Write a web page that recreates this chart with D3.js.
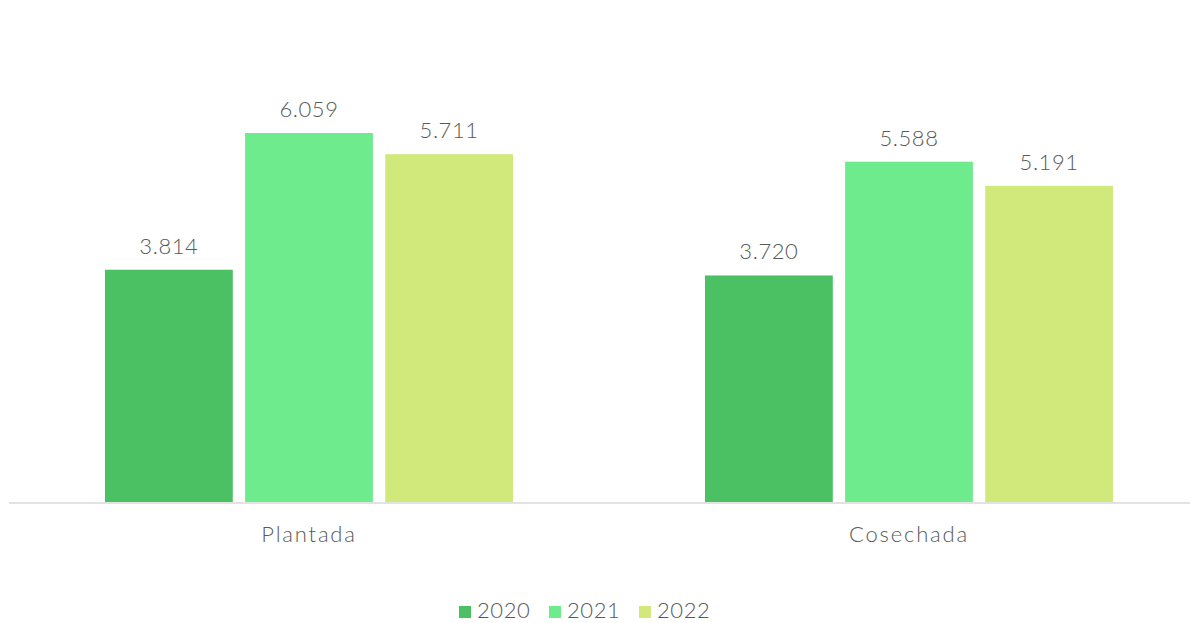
<!DOCTYPE html>
<html><head><meta charset="utf-8">
<script src="https://cdn.jsdelivr.net/npm/d3@7/dist/d3.min.js"></script>
<style>body{margin:0;background:#fff}text{font-family:"Century Gothic","Lato","Open Sans",sans-serif;fill:#595959}</style>
</head><body><svg id="c" width="1197" height="623"></svg>
<script>
const categories = ["Plantada", "Cosechada"];
const seriesNames = ["2020", "2021", "2022"];
const values2020 = [3.814, 3.720];
const values2021 = [6.059, 5.588];
const values2022 = [5.711, 5.191];
const labels2020 = ["3.814", "3.720"];
const labels2021 = ["6.059", "5.588"];
const labels2022 = ["5.711", "5.191"];
const colors = ["#4BC163", "#6EEB8D", "#D1E97B"];

const series = [values2020, values2021, values2022];
const labels = [labels2020, labels2021, labels2022];
const svg = d3.select("#c");
const baseY = 502;
const y = d3.scaleLinear().domain([0, 6.059]).range([baseY, 133]);
const x0 = d3.scaleBand().domain(categories).range([9, 1209]).paddingInner(0).paddingOuter(0);
const x1 = d3.scaleBand().domain(seriesNames).range([96, 504]).paddingInner(0.088).paddingOuter(0);

categories.forEach((cat, ci) => {
  seriesNames.forEach((s, si) => {
    const v = series[si][ci];
    const bx = x0(cat) + x1(s);
    svg.append("rect").attr("x", bx).attr("y", y(v)).attr("width", x1.bandwidth()).attr("height", baseY - y(v)).attr("fill", colors[si]);
    svg.append("text").attr("x", bx + x1.bandwidth()/2).attr("y", y(v) - 16).attr("text-anchor", "middle")
      .attr("font-size", 22).attr("font-weight", 350).attr("letter-spacing", 0.6).text(labels[si][ci]);
  });
  svg.append("text").attr("x", x0(cat) + x0.bandwidth()/2).attr("y", 542).attr("text-anchor", "middle")
    .attr("font-size", 22).attr("font-weight", 350).attr("letter-spacing", 1.8).text(cat);
});
svg.append("line").attr("x1", 9).attr("x2", 1190).attr("y1", baseY + 1).attr("y2", baseY + 1).attr("stroke", "#d9d9d9").attr("stroke-width", 1.5);

const lg = svg.append("g");
const legX = [459, 549, 639];
seriesNames.forEach((s, i) => {
  lg.append("rect").attr("x", legX[i]).attr("y", 606).attr("width", 12).attr("height", 12).attr("fill", colors[i]);
  lg.append("text").attr("x", legX[i] + 18).attr("y", 618).attr("font-size", 22).attr("font-weight", 350)
    .attr("letter-spacing", 0.6).text(s);
});
</script></body></html>
